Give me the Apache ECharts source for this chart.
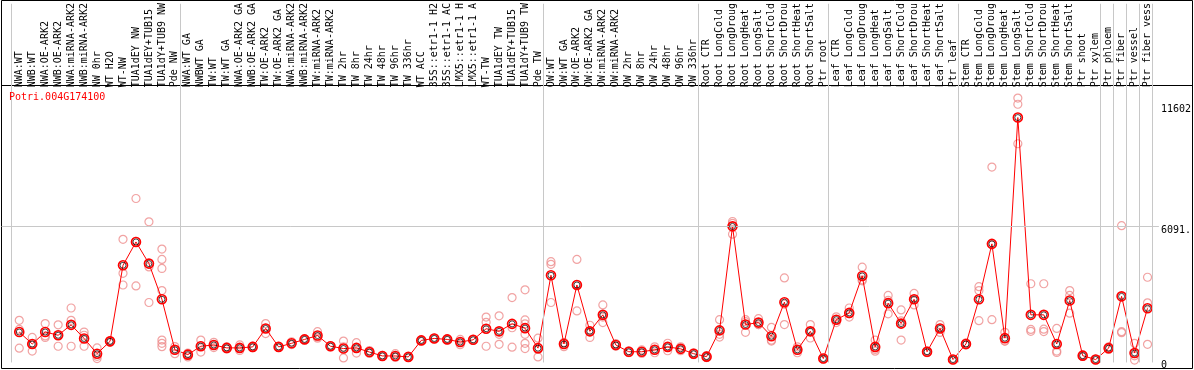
<!DOCTYPE html>
<html>
<head>
<meta charset="utf-8">
<script src="https://cdn.jsdelivr.net/npm/echarts@6/dist/echarts.min.js"></script>
<style>
html,body{margin:0;padding:0;background:#fff;}
#chart{width:1194px;height:370px;}
</style>
</head>
<body>
<div id="chart"></div>
<script>
const geneName = 'Potri.004G174100';

const categories = [
  'NWA:WT','NWB:WT','NWA:OE-ARK2','NWB:OE-ARK2','NWA:miRNA-ARK2','NWB:miRNA-ARK2','NW 0hr','WT H2O','WT-NW',
  'TUA1dEY NW','TUA1dEY+TUB15','TUA1dY+TUB9 NW','Pde NW',
  'NWA:WT GA','NWBWT GA','TW:WT','TW:WT GA','NWA:OE-ARK2 GA','NWB:OE-ARK2 GA','TW:OE-ARK2','TW:OE-ARK2 GA',
  'NWA:miRNA-ARK2','NWB:miRNA-ARK2','TW:miRNA-ARK2','TW:miRNA-ARK2',
  'TW 2hr','TW 8hr','TW 24hr','TW 48hr','TW 96hr','TW 336hr','WT ACC',
  '35S::etr1-1 H2','35S::etr1-1 AC','LMX5::etr1-1 H','LMX5::etr1-1 A',
  'WT-TW','TUA1dEY TW','TUA1dEY+TUB15','TUA1dY+TUB9 TW','Pde TW',
  'OW:WT','OW:WT GA','OW:OE-ARK2','OW:OE-ARK2 GA','OW:miRNA-ARK2','OW:miRNA-ARK2',
  'OW 2hr','OW 8hr','OW 24hr','OW 48hr','OW 96hr','OW 336hr',
  'Root CTR','Root LongCold','Root LongDroug','Root LongHeat','Root LongSalt','Root ShortCold','Root ShortDrou','Root ShortHeat','Root ShortSalt','Ptr root',
  'Leaf CTR','Leaf LongCold','Leaf LongDroug','Leaf LongHeat','Leaf LongSalt','Leaf ShortCold','Leaf ShortDrou','Leaf ShortHeat','Leaf ShortSalt','Ptr leaf',
  'Stem CTR','Stem LongCold','Stem LongDroug','Stem LongHeat','Stem LongSalt','Stem ShortCold','Stem ShortDrou','Stem ShortHeat','Stem ShortSalt','Ptr shoot',
  'Ptr xylem','Ptr phloem','Ptr fiber','Ptr vessel','Ptr fiber vess'
];

const means = [
  1270,727,1270,1124,1596,979,287,847,4299,5357,4374,2756,463,
  243,626,683,551,551,595,1433,595,758,935,1111,626,520,551,362,185,185,141,891,979,935,816,917,1420,1301,1640,1446,538,
  3845,727,3404,1301,2050,683,375,375,463,595,507,287,
  154,1345,6063,1609,1697,1080,2623,463,1301,66,
  1830,2138,3814,595,2579,1653,2756,375,1433,22,
  727,2756,5269,992,11000,2050,2050,727,2698,198,
  22,538,2888,317,2346
];

const replicates = [
  [1799,1389,538],[1023,406,727],[1653,1093,1023],[1596,626,1124],[2359,1799,626],[1270,1124,626],[551,168,66],[873,802,866],
  [5476,3933,3404],[7328,3360,5383],[6270,4224,2610],[5035,4563,4153,3152,904,758,608],[608,287,463],
  [317,141,243],[904,362,640],[802,564,683],[600,500,551],[432,683,540],[595,560,630],[1653,1199,1433],[595,620,570],
  [829,700,745],[935,960,910],[1287,992,1050],[626,600,650],[860,97,600],[785,317,551],[432,362,300],[185,160,210],
  [287,120,150],[141,120,160],[891,870,910],[979,960,1000],[935,910,960],[935,697,816],[917,900,935],
  [1949,1711,626],[2006,1168,714],[2831,1464,582],[3183,1817,1640,1168,758,520],[992,141,480],
  [4462,4343,2610],[785,608,790],[4563,2227,3422],[1578,1023,1301],[2500,1700,1950],[750,620,683],
  [420,330,375],[460,300,365],[600,330,460],[760,420,600],[600,420,500],[330,240,290],
  [200,110,150],[1830,1168,1040],[6283,6195,5710],[1830,1256,1740],[1874,1609,1610],[1477,860,900],[3725,1609,2535],[600,330,460],[1609,1000,1300],[66,40,90],
  [1960,1700,1830],[2359,1950,2100],[4211,3593,3640],[904,400,480],[2932,2094,2710],[2271,904,1780],[3020,2500,2750],[420,330,375],[1609,1250,1440],[22,10,35],
  [780,680,720],[3329,1786,3150],[8752,1830,5225],[1256,860,860],[11882,11602,9810],[3461,1389,1300],[3461,1400,1290],[1433,406,342],[3152,2932,2125],[240,160,198],
  [30,10,25],[600,480,538],[6093,1287,1243],[758,0,190],[3756,2593,714]
];

const yTickValues = [0, 6091.05, 11602];
const gridLineValue = 6091.05;
// indices after which a vertical group separator is drawn
const groupEnds = [-1, 12, 40, 52, 62, 72, 83, 84, 85, 86, 87];

const meanData = means.map((v, i) => [i, v]);
const repData = [];
replicates.forEach((arr, i) => arr.forEach(v => repData.push([i, v])));

const mono = 'DejaVu Sans Mono';
const chart = echarts.init(document.getElementById('chart'), null, {renderer: 'canvas'});

chart.setOption({
  animation: false,
  backgroundColor: '#fff',
  title: {
    text: geneName, left: 9, top: 92, padding: 0,
    textStyle: {color: '#ff0000', fontSize: 10, fontFamily: mono, fontWeight: 'normal'}
  },
  grid: [
    {left: 1.5, top: 0, width: 1160.2, height: 369, containLabel: false},
    {left: 1.5, top: 0.5, width: 1191, height: 368, show: true, borderColor: '#000', borderWidth: 1, backgroundColor: 'transparent'}
  ],
  xAxis: [
    {
      type: 'value', gridIndex: 0, position: 'top', offset: -85.5,
      min: -1.3692, max: 87.877,
      axisLine: {show: false}, axisTick: {show: false}, splitLine: {show: false},
      axisLabel: {
        show: true, rotate: 90, margin: 2, color: '#000', fontSize: 10, fontFamily: mono,
        customValues: categories.map((c, i) => i),
        formatter: v => categories[Math.round(v)] || ''
      }
    },
    {
      type: 'value', gridIndex: 1, position: 'top', offset: -85, min: 0, max: 1,
      axisLine: {show: true, onZero: false, lineStyle: {color: '#000', width: 1}},
      axisTick: {show: false}, axisLabel: {show: false}, splitLine: {show: false}
    }
  ],
  yAxis: [
    {
      type: 'value', gridIndex: 0, position: 'right', min: -110, max: 16160,
      axisLine: {show: false}, axisTick: {show: false}, splitLine: {show: false},
      axisLabel: {
        show: true, margin: 2, align: 'left', verticalAlign: 'top',
        color: '#000', fontSize: 10, fontFamily: mono,
        customValues: yTickValues,
        formatter: v => String(v).slice(0, 5)
      }
    },
    {
      type: 'value', gridIndex: 1, min: 0, max: 1, show: false
    }
  ],
  series: [
    {
      type: 'scatter', name: 'replicates', xAxisIndex: 0, yAxisIndex: 0,
      data: repData, symbol: 'circle', symbolSize: 8, z: 2,
      itemStyle: {color: 'transparent', borderColor: '#ee8c8c', borderWidth: 1.2},
      silent: true
    },
    {
      type: 'line', name: geneName, xAxisIndex: 0, yAxisIndex: 0,
      data: meanData, symbol: 'circle', symbolSize: 9, showAllSymbol: true,
      lineStyle: {color: '#ff0000', width: 1},
      itemStyle: {color: 'transparent', borderColor: '#ff0000', borderWidth: 1.6},
      markLine: {
        silent: true, symbol: 'none', animation: false,
        label: {show: false},
        lineStyle: {color: '#c8c8c8', width: 1, type: 'solid'},
        data: groupEnds.map(i => ({xAxis: i + 0.385})).concat([{yAxis: gridLineValue}])
      },
      z: 4
    },
    {
      type: 'scatter', name: 'meanInner', xAxisIndex: 0, yAxisIndex: 0,
      data: meanData, symbol: 'circle', symbolSize: 6, z: 5,
      itemStyle: {color: 'transparent', borderColor: '#000', borderWidth: 0.9},
      silent: true
    }
  ]
});
</script>
</body>
</html>
